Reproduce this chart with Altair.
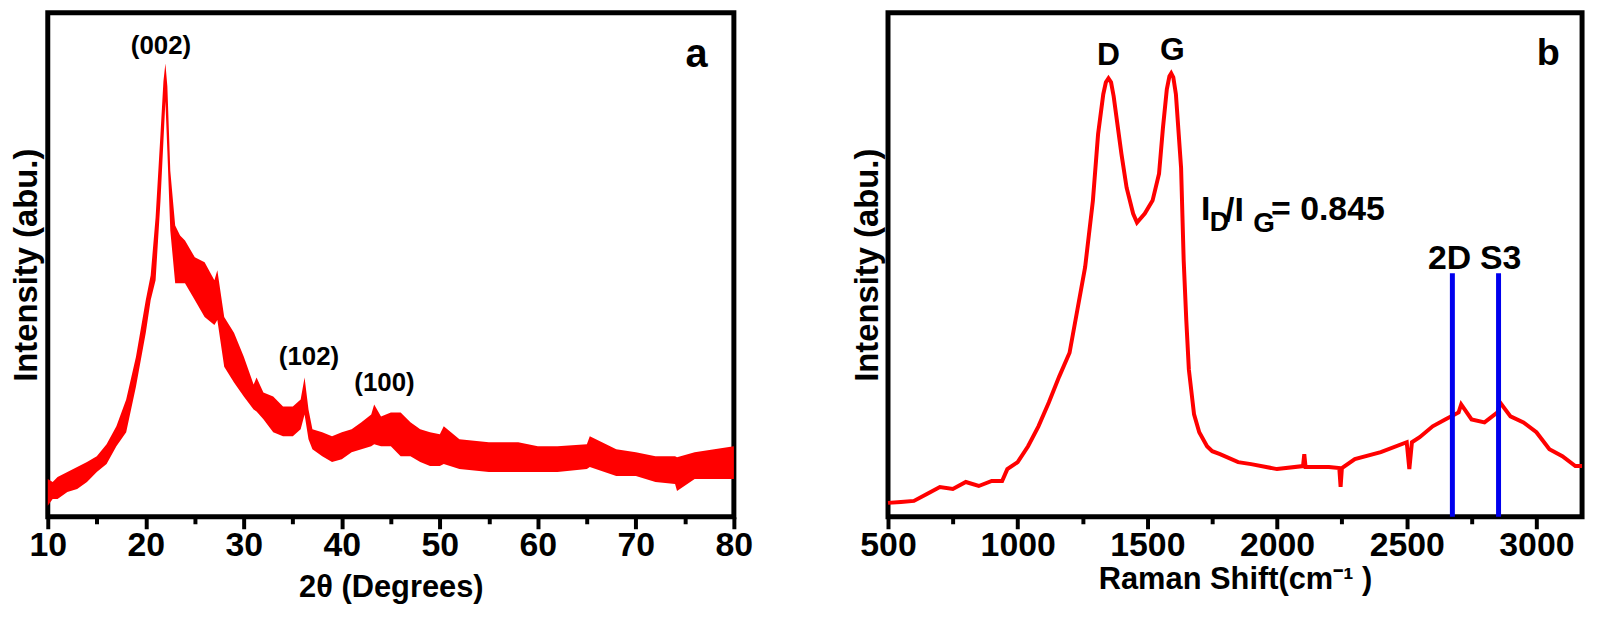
import altair as alt
import pandas as pd

# ---------------- Panel a: XRD pattern (noisy band: upper / lower envelope) ----------------
xrd_two_theta = [10, 10.5, 11, 12, 13, 14, 15, 16, 17, 18, 19, 20, 20.5, 21, 21.5, 21.8, 22, 22.2,
                 22.5, 23, 23.5, 24, 25, 26, 27, 27.3, 28, 29, 30, 31, 31.3, 32, 33, 34, 35, 35.8,
                 36.2, 36.6, 37, 38, 39, 40, 41, 42, 43, 43.3, 44, 45, 46, 47, 48, 49, 50, 50.4,
                 52, 55, 58, 60, 62, 65, 65.3, 68, 70, 72, 74, 74.2, 76, 78, 80]
xrd_upper = [76, 70, 80, 90, 100, 110, 122, 146, 182, 236, 322, 436, 486, 602, 770, 876, 912, 866,
             696, 586, 566, 556, 522, 512, 476, 496, 402, 370, 322, 266, 280, 250, 242, 222, 222, 236,
             280, 216, 176, 170, 162, 170, 176, 190, 206, 226, 202, 210, 210, 190, 176, 170, 166, 182,
             156, 150, 150, 142, 142, 146, 162, 136, 130, 122, 122, 120, 130, 136, 142]
xrd_lower = [22, 36, 36, 50, 56, 70, 90, 106, 142, 170, 262, 370, 436, 476, 636, 756, 836, 736,
             576, 470, 470, 470, 436, 402, 386, 396, 302, 270, 242, 216, 212, 196, 170, 162, 162, 176,
             206, 156, 136, 122, 110, 116, 130, 136, 142, 146, 142, 142, 122, 122, 110, 102, 102, 106,
             96, 90, 90, 90, 90, 96, 100, 82, 82, 70, 66, 52, 76, 76, 76]

# ---------------- Panel b: Raman spectrum ----------------
raman_shift = [500, 550, 600, 650, 700, 750, 800, 850, 900, 940, 960, 1000, 1040, 1080, 1120, 1160,
               1200, 1230, 1260, 1290, 1310, 1330, 1340, 1350, 1360, 1370, 1400, 1420, 1445, 1460,
               1490, 1520, 1545, 1560, 1575, 1585, 1592, 1600, 1610, 1630, 1640, 1650, 1660, 1680,
               1700, 1730, 1750, 1780, 1850, 1900, 2000, 2100, 2105, 2110, 2200, 2240, 2245, 2250,
               2300, 2400, 2500, 2510, 2520, 2550, 2600, 2650, 2700, 2710, 2750, 2800, 2850, 2860,
               2900, 2950, 3000, 3050, 3100, 3150, 3176]
raman_intensity = [28, 30, 32, 46, 60, 56, 70, 62, 72, 72, 96, 110, 142, 182, 230, 282,
                   330, 416, 502, 636, 770, 850, 874, 882, 874, 846, 730, 662, 610, 592,
                   610, 636, 690, 782, 860, 886, 892, 884, 850, 702, 516, 396, 296, 206,
                   170, 142, 132, 126, 110, 106, 96, 102, 126, 100, 100, 98, 60, 98,
                   116, 130, 150, 96, 150, 160, 182, 196, 210, 226, 196, 190, 210, 230,
                   202, 190, 170, 136, 122, 102, 102]

# vertical marker lines (2D and S3 bands)
marker_shift = [2676, 2854]
marker_top = [490, 490]
marker_base = [0, 0]

# annotations
a_labels = ["(002)", "(102)", "(100)", "a"]
a_x = [21.55, 36.65, 44.35, 76.2]
a_y = [946, 322, 270, 928]
a_size = [26, 26, 26, 40]

b_labels = ["D", "G", "2D", "S3", "b", "I", "D", "/I", "G", "= 0.845"]
b_x = [1350, 1596, 2665, 2862, 3046, 1725, 1778, 1836, 1950, 2196]
b_y = [928, 938, 518, 518, 930, 617, 591, 614, 589, 617]
b_size = [32, 32, 34, 34, 38, 34, 27, 34, 28, 34]

FONT = "Liberation Sans, Arial, sans-serif"
NARROW = "Liberation Sans Narrow, Arial Narrow, Liberation Sans, sans-serif"

xrd_df = pd.DataFrame({"x": xrd_two_theta, "upper": xrd_upper, "lower": xrd_lower})
raman_df = pd.DataFrame({"x": raman_shift, "y": raman_intensity})
marker_df = pd.DataFrame({"x": marker_shift, "y": marker_top, "y0": marker_base})
ann_a = pd.DataFrame({"x": a_x, "y": a_y, "label": a_labels, "size": a_size})
ann_b = pd.DataFrame({"x": b_x, "y": b_y, "label": b_labels, "size": b_size})
ann_a_narrow = ann_a[ann_a["label"] != "a"]
ann_a_wide = ann_a[ann_a["label"] == "a"]
ann_b_wide = ann_b[ann_b["label"].isin(["b"]) | (ann_b["size"] == 32)]
ann_b_narrow = ann_b[~ann_b.index.isin(ann_b_wide.index)]


def x_axis(values, major, title, title_pad):
    return alt.Axis(
        values=values, format="d",
        labelExpr=f"datum.value % {major} === 0 ? datum.label : ''",
        tickSize={"condition": {"test": f"datum.value % {major} === 0", "value": 12}, "value": 7},
        tickWidth=4, tickColor="black", domain=False, grid=False,
        labelFont=NARROW, labelFontSize=34, labelFontWeight="bold", labelColor="black",
        labelPadding=0, labelFlush=False, labelOverlap=False,
        title=title, titleFont=FONT, titleFontSize=31, titleFontWeight="bold",
        titleColor="black", titlePadding=title_pad,
    )


def y_axis(pad):
    return alt.Axis(
        labels=False, ticks=False, domain=False, grid=False, minExtent=0,
        title="Intensity (abu.)", titleFont=FONT, titleFontSize=33, titleFontWeight="bold",
        titleColor="black", titlePadding=pad,
    )


ax_a = x_axis(list(range(10, 81, 5)), 10, "2θ (Degrees)", 10)
ax_b = x_axis(list(range(500, 3001, 250)), 500, "Raman Shift(cm⁻¹ )", 2)
sx_a = alt.Scale(domain=[10, 80], nice=False, zero=False)
sx_b = alt.Scale(domain=[500, 3176], nice=False, zero=False)
sy = alt.Scale(domain=[0, 1014], nice=False, zero=False)
ay_a = y_axis(4)
ay_b = y_axis(4)


def text_layer(df, font, sx, ax, ay):
    return alt.Chart(df).mark_text(font=font, fontWeight="bold", color="black",
                                   align="center", baseline="middle").encode(
        x=alt.X("x:Q", scale=sx, axis=ax),
        y=alt.Y("y:Q", scale=sy, axis=ay),
        text="label:N",
        size=alt.Size("size:Q", scale=None, legend=None),
    )


band = alt.Chart(xrd_df).mark_area(color="#ff0000", interpolate="linear").encode(
    x=alt.X("x:Q", scale=sx_a, axis=ax_a),
    y=alt.Y("upper:Q", scale=sy, axis=ay_a),
    y2=alt.Y2("lower:Q"),
)
panel_a = alt.layer(
    band,
    text_layer(ann_a_narrow, NARROW, sx_a, ax_a, ay_a),
    text_layer(ann_a_wide, FONT, sx_a, ax_a, ay_a),
).properties(width=690, height=507)

line = alt.Chart(raman_df).mark_line(color="#ff0000", strokeWidth=4, interpolate="linear").encode(
    x=alt.X("x:Q", scale=sx_b, axis=ax_b),
    y=alt.Y("y:Q", scale=sy, axis=ay_b),
)
markers = alt.Chart(marker_df).mark_rule(color="#0000ee", strokeWidth=5).encode(
    x=alt.X("x:Q", scale=sx_b, axis=ax_b),
    y=alt.Y("y:Q", scale=sy, axis=ay_b),
    y2=alt.Y2("y0:Q"),
)
panel_b = alt.layer(
    line, markers,
    text_layer(ann_b_narrow, NARROW, sx_b, ax_b, ay_b),
    text_layer(ann_b_wide, FONT, sx_b, ax_b, ay_b),
).properties(width=698, height=507)

chart = alt.hconcat(panel_a, panel_b, spacing=155, bounds="flush", padding=0).configure_view(
    stroke="black", strokeWidth=5
)

chart.save("out.html", embed_options={"renderer": "svg", "actions": False})
